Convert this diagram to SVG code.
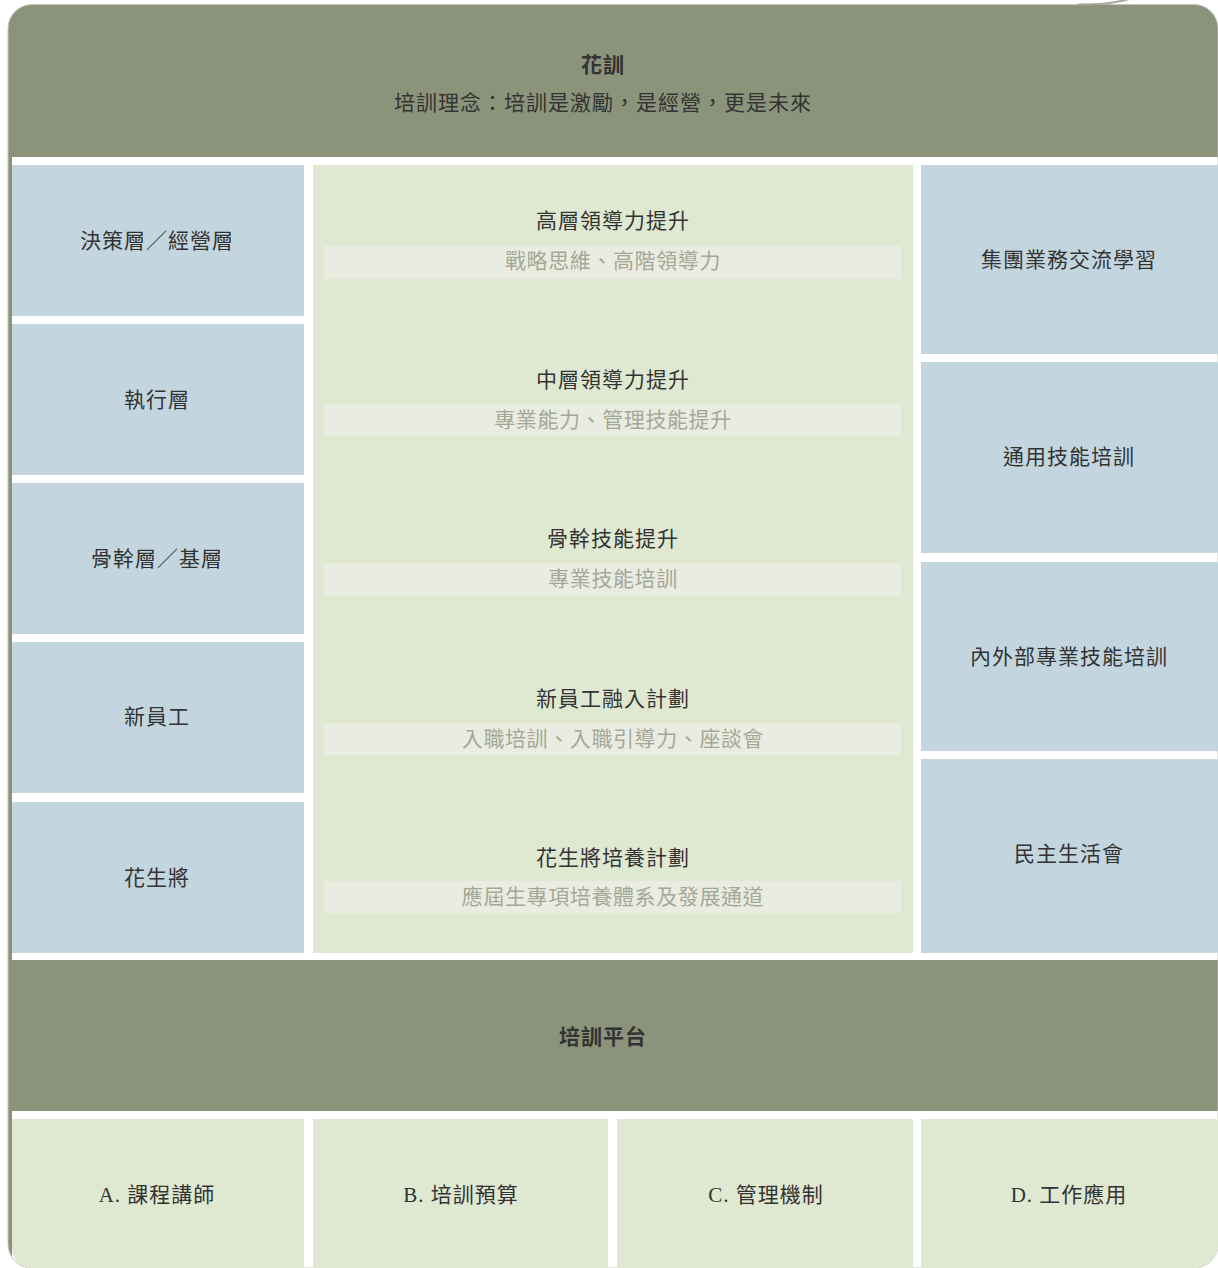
<svg xmlns="http://www.w3.org/2000/svg" width="1218" height="1268" viewBox="0 0 1218 1268">
<style>
text{font-family:"Liberation Serif","Noto Sans CJK TC",serif;font-size:21px;fill:#333;text-anchor:middle;dominant-baseline:central;letter-spacing:1px}
.b{font-weight:bold}
.sub{fill:#a3a897;letter-spacing:0.6px}
.band{fill:#8b937a}
.blue{fill:#c3d6df}
.green{fill:#dfe8d1}
.bar{fill:#ebece1}
</style>
<defs>
<clipPath id="frame"><rect x="8" y="4.5" width="1210" height="1263.5" rx="24"/></clipPath>
</defs>
<rect width="1218" height="1268" fill="#fff"/>
<g clip-path="url(#frame)">
<rect x="8" y="0" width="1210" height="1268" class="band"/>
<rect x="12" y="157" width="1206" height="803" fill="#fff"/>
<rect x="12" y="1111" width="1206" height="157" fill="#fff"/>
</g>
<rect x="8" y="4.5" width="1210" height="1263.5" rx="24" fill="none" stroke="#c5c7bc" stroke-width="1"/>
<path d="M1078 4.5 Q1112 5 1132 -2" fill="none" stroke="#a4a799" stroke-width="2"/>
<g id="top">
<text x="603" y="65" class="b">花訓</text>
<text x="603" y="103">培訓理念：培訓是激勵，是經營，更是未來</text>
</g>
<g id="left">
<g id="l1"><rect x="12" y="165" width="292" height="151" class="blue"/><text x="157" y="241">決策層／經營層</text></g>
<g id="l2"><rect x="12" y="324" width="292" height="151" class="blue"/><text x="157" y="400">執行層</text></g>
<g id="l3"><rect x="12" y="483" width="292" height="151" class="blue"/><text x="157" y="559">骨幹層／基層</text></g>
<g id="l4"><rect x="12" y="642" width="292" height="151" class="blue"/><text x="157" y="717">新員工</text></g>
<g id="l5"><rect x="12" y="802" width="292" height="151" class="blue"/><text x="157" y="878">花生將</text></g>
</g>
<g id="middle">
<rect x="313" y="165" width="600" height="788" class="green"/>
<g id="m1"><text x="613" y="221">高層領導力提升</text><rect x="324" y="246" width="577" height="33" class="bar"/><text x="613" y="261" class="sub">戰略思維、高階領導力</text></g>
<g id="m2"><text x="613" y="380">中層領導力提升</text><rect x="324" y="404" width="577" height="32" class="bar"/><text x="613" y="420" class="sub">專業能力、管理技能提升</text></g>
<g id="m3"><text x="613" y="539">骨幹技能提升</text><rect x="324" y="563" width="577" height="33" class="bar"/><text x="613" y="579" class="sub">專業技能培訓</text></g>
<g id="m4"><text x="613" y="699">新員工融入計劃</text><rect x="324" y="723" width="577" height="32" class="bar"/><text x="613" y="739" class="sub">入職培訓、入職引導力、座談會</text></g>
<g id="m5"><text x="613" y="858">花生將培養計劃</text><rect x="324" y="881" width="577" height="32" class="bar"/><text x="613" y="897" class="sub">應屆生專項培養體系及發展通道</text></g>
</g>
<g id="right">
<g id="r1"><rect x="921" y="165" width="297" height="189" class="blue"/><text x="1069" y="260">集團業務交流學習</text></g>
<g id="r2"><rect x="921" y="362" width="297" height="191" class="blue"/><text x="1069" y="457">通用技能培訓</text></g>
<g id="r3"><rect x="921" y="562" width="297" height="189" class="blue"/><text x="1069" y="657">內外部專業技能培訓</text></g>
<g id="r4"><rect x="921" y="759" width="297" height="194" class="blue"/><text x="1069" y="854">民主生活會</text></g>
</g>
<g id="platform"><text x="603" y="1037" class="b">培訓平台</text></g>
<g id="bottom">
<g id="a"><path d="M12 1119 H304 V1268 H32 A20 20 0 0 1 12 1248 Z" class="green"/><text x="157" y="1195">A. 課程講師</text></g>
<g id="bb"><rect x="313" y="1119" width="295" height="149" class="green"/><text x="461" y="1195">B. 培訓預算</text></g>
<g id="c"><rect x="617" y="1119" width="296" height="149" class="green"/><text x="766" y="1195">C. 管理機制</text></g>
<g id="d"><path d="M921 1119 H1218 V1246 A22 22 0 0 1 1196 1268 H921 Z" class="green"/><text x="1069" y="1195">D. 工作應用</text></g>
</g>
<g id="connectors"/>
</svg>
